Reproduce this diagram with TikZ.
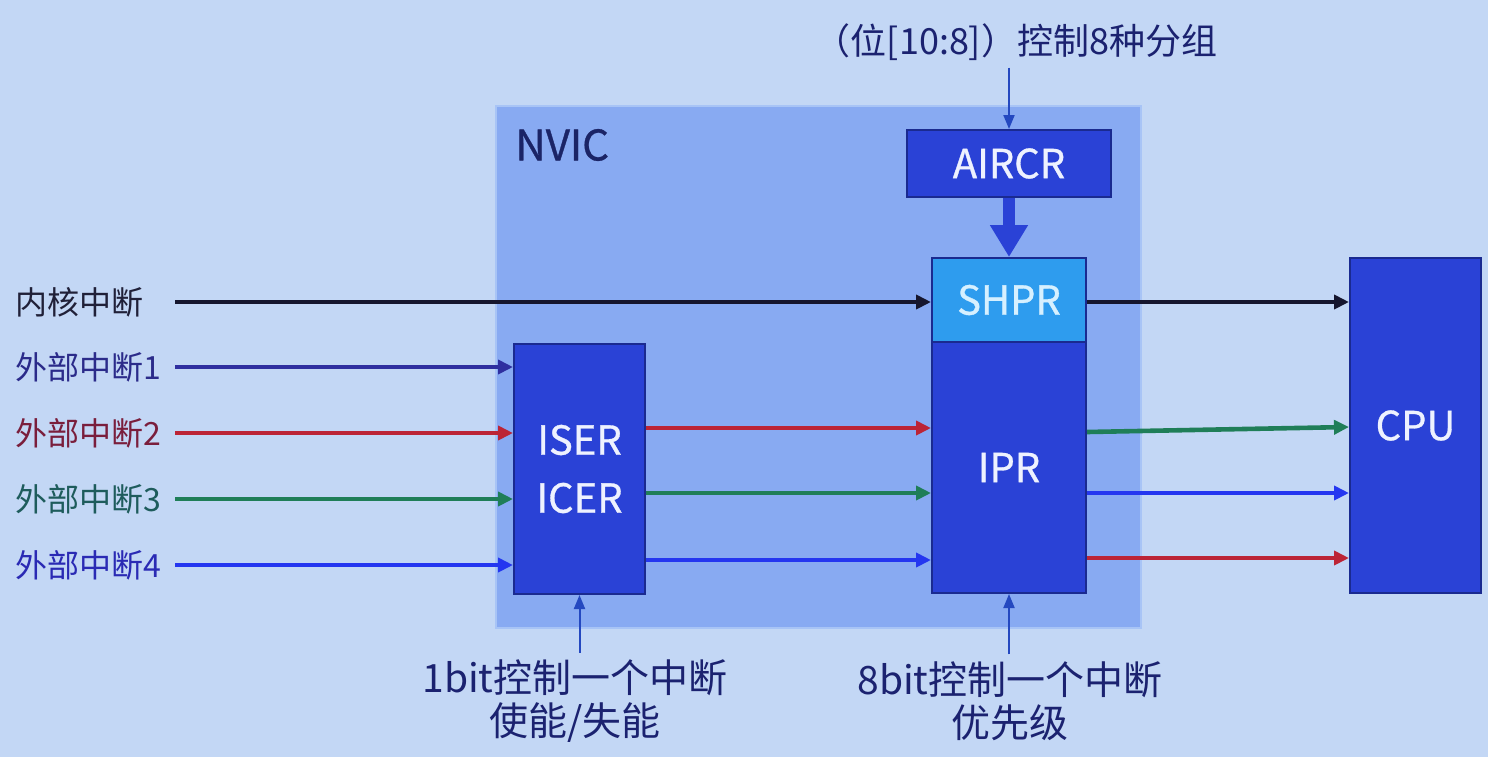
\documentclass[tikz,border=0pt]{standalone}
\usepackage{fontspec}
\newfontfamily\cjk{Noto Sans CJK SC}
\newfontfamily\cjkbox[FakeBold=0.8]{Noto Sans CJK SC}
\usetikzlibrary{arrows.meta}

\definecolor{bgleft}{HTML}{C3D7F5}
\definecolor{bgmid}{HTML}{DFE9F6}
\definecolor{nvicfill}{HTML}{88AAF2}
\definecolor{nvicline}{HTML}{A8C4F6}
\definecolor{nvictext}{HTML}{1B2466}
\definecolor{boxblue}{HTML}{2A42D6}
\definecolor{boxline}{HTML}{1A2A90}
\definecolor{boxtext}{HTML}{EEF2FF}
\definecolor{shprblue}{HTML}{2E9CEE}
\definecolor{shprtext}{HTML}{D6F0FF}
\definecolor{coretext}{HTML}{202038}
\definecolor{corearrow}{HTML}{16162E}
\definecolor{t1}{HTML}{2B2B8A}
\definecolor{t2}{HTML}{7A1E3C}
\definecolor{t3}{HTML}{1E5C5C}
\definecolor{t4}{HTML}{2A2AB4}
\definecolor{a1}{HTML}{2F2FA0}
\definecolor{a2}{HTML}{BC2436}
\definecolor{a3}{HTML}{1F7E58}
\definecolor{a4}{HTML}{2436F0}
\definecolor{ptrblue}{HTML}{2448C0}
\definecolor{notetext}{HTML}{1B2270}

\begin{document}
\begin{tikzpicture}[x=0.5pt,y=-0.5pt,
  box/.style={draw=boxline,line width=1pt,fill=boxblue,text=boxtext,inner sep=0pt,
    font=\cjkbox\fontsize{20}{29}\selectfont},
  sig/.style={line width=2.3pt,-{Triangle[length=7.5pt,width=7pt]}},
  ptr/.style={ptrblue,line width=1pt,-{Triangle[length=7pt,width=5.5pt]}},
  lbl/.style={anchor=west,inner sep=0pt,font=\cjk\fontsize{16}{18}\selectfont},
  note/.style={text=notetext,align=center,font=\cjk\fontsize{18}{21.5}\selectfont}]
  \useasboundingbox (0,0) rectangle (1488,756);
  \shade[left color=bgleft,middle color=bgmid,right color=bgleft] (0,0) rectangle (1488,756);

  % NVIC block
  \node[fill=nvicfill,draw=nvicline,line width=1pt,inner sep=0pt,anchor=north west,
    minimum width=322.5pt,minimum height=261pt] (nvic) at (495,105) {};
  \node[anchor=west,inner sep=0pt,text=nvictext,font=\cjkbox\fontsize{21}{24}\selectfont] (nvictitle) at (515,145) {NVIC};

  \node[box,minimum width=102pt,minimum height=33.5pt] (aircr) at (1009,163.5) {AIRCR};
  \node[box,fill=shprblue,text=shprtext,minimum width=77pt,minimum height=42pt] (shpr) at (1009,300) {SHPR};
  \node[box,minimum width=77pt,minimum height=125.5pt] (ipr) at (1009,467.5) {IPR};
  \node[box,align=center,minimum width=65.5pt,minimum height=125pt] (iser) at (579.5,469) {ISER\\ICER};
  \node[box,minimum width=65.5pt,minimum height=167.5pt] (cpu) at (1415.5,425.5) {CPU};

  \draw[boxblue,line width=6pt,-{Triangle[length=16pt,width=18pt]}] (aircr.south) -- (shpr.north);

  % inputs
  \node[lbl,text=coretext] (core) at (15,302) {内核中断};
  \coordinate (core-s) at (175,302);
  \draw[sig,corearrow] (core-s) -- (core-s -| shpr.west);
  \draw[sig,corearrow] (shpr.east |- core-s) -- (cpu.west |- core-s);
  \foreach \i/\y/\tc/\ac in {1/367/t1/a1,2/433/t2/a2,3/499/t3/a3,4/565/t4/a4}{
    \node[lbl,text=\tc] (ext\i) at (15,\y) {外部中断\i};
    \coordinate (ext\i-s) at (175,\y);
    \draw[sig,\ac] (ext\i-s) -- (ext\i-s -| iser.west);
  }

  % ISER -> IPR -> CPU
  \foreach \y/\ac in {428/a2,493/a3,560/a4}
    \draw[sig,\ac] (iser.east |- 0,\y) -- (ipr.west |- 0,\y);
  \draw[sig,a3] (ipr.east |- 0,432) -- (cpu.west |- 0,427);
  \draw[sig,a4] (ipr.east |- 0,493) -- (cpu.west |- 0,493);
  \draw[sig,a2] (ipr.east |- 0,558) -- (cpu.west |- 0,558);

  % notes
  \node[note] (groupinfo) at (1016,42) {（位[10:8]）控制8种分组};
  \node[note,font=\cjk\fontsize{19.5}{21.5}\selectfont] (iserinfo) at (575,701) {1bit控制一个中断\\使能/失能};
  \node[note,font=\cjk\fontsize{19.5}{21.5}\selectfont] (iprinfo) at (1010,701) {8bit控制一个中断\\优先级};
  \draw[ptr] (iser.south |- iserinfo.north) -- (iser.south);
  \draw[ptr] (aircr.north |- groupinfo.south) -- (aircr.north);
  \draw[ptr] (ipr.south |- iprinfo.north) -- (ipr.south);
\end{tikzpicture}
\end{document}
